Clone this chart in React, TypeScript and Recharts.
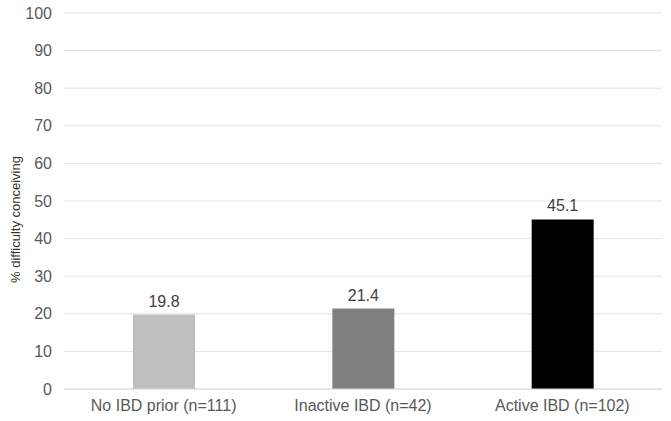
import { BarChart, Bar, XAxis, YAxis, CartesianGrid, Cell, LabelList } from "recharts";

const categories = ["No IBD prior (n=111)", "Inactive IBD (n=42)", "Active IBD (n=102)"];
const values = [19.8, 21.4, 45.1];
const barColors = ["#bfbfbf", "#7f7f7f", "#000000"];
const yTicks = [0, 10, 20, 30, 40, 50, 60, 70, 80, 90, 100];

const data = categories.map((name, i) => ({ name, value: values[i] }));

export default function App() {
  return (
    <div style={{ position: "absolute", left: 0, top: 0, background: "#fff", fontFamily: "'Liberation Sans', Arial, sans-serif" }}>
      <BarChart width={671} height={421} data={data} margin={{ top: 13, right: 9, left: 10, bottom: 2 }}>
        <CartesianGrid vertical={false} stroke="#e3e3e3" />
        <XAxis
          dataKey="name"
          height={30}
          tickLine={false}
          axisLine={{ stroke: "#d9d9d9" }}
          tickMargin={5}
          tick={{ fill: "#595959", fontSize: 16 }}
        />
        <YAxis
          width={54}
          domain={[0, 100]}
          ticks={yTicks}
          tickLine={false}
          axisLine={false}
          tickMargin={6}
          tick={{ fill: "#595959", fontSize: 16 }}
          label={{
            value: "% difficulty conceiving",
            angle: -90,
            position: "insideLeft",
            dx: 0,
            dy: 82,
            style: { fill: "#333333", fontSize: 13 },
          }}
        />
        <Bar dataKey="value" barSize={62} isAnimationActive={false}>
          {data.map((d, i) => (
            <Cell key={d.name} fill={barColors[i]} />
          ))}
          <LabelList dataKey="value" position="top" offset={8} style={{ fill: "#404040", fontSize: 16 }} />
        </Bar>
      </BarChart>
    </div>
  );
}
